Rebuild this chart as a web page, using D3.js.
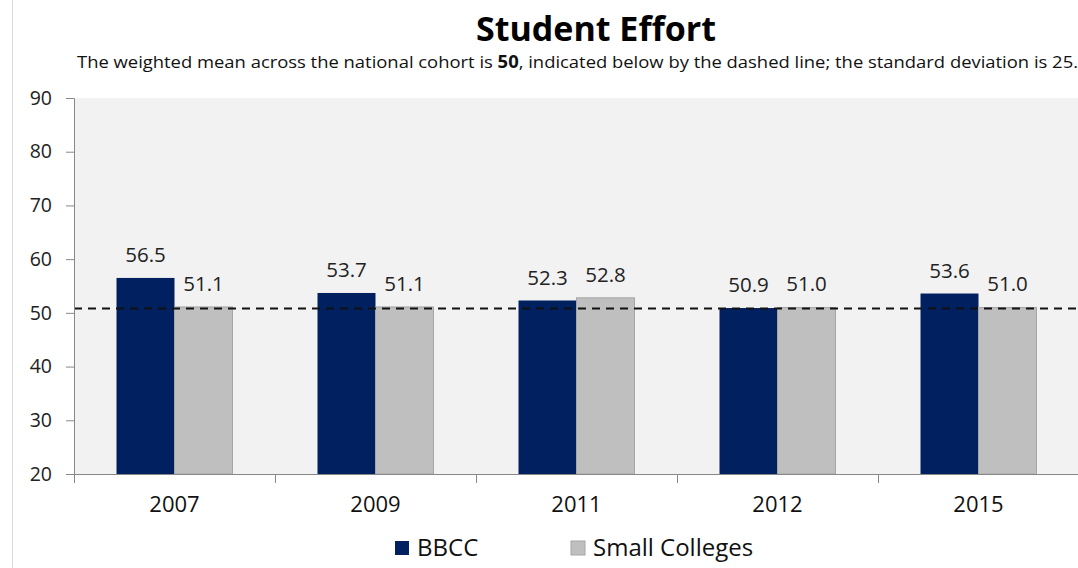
<!DOCTYPE html>
<html>
<head>
<meta charset="utf-8">
<script src="https://cdn.jsdelivr.net/npm/d3@7"></script>
<style>
  html, body { margin: 0; padding: 0; background: #fff; }
  svg { display: block; font-family: "Open Sans", sans-serif; }
</style>
</head>
<body>
<svg id="chart" width="1078" height="568"></svg>
<script>
// Survey years on the category axis
const years = ["2007", "2009", "2011", "2012", "2015"];
// Mean scores per year for each group
const bbcc = [56.5, 53.7, 52.3, 50.9, 53.6];
const smallColleges = [51.1, 51.1, 52.8, 51.0, 51.0];
const seriesNames = ["BBCC", "Small Colleges"];
const seriesColors = ["#002060", "#bfbfbf"];
// Y axis ticks
const yTicks = [20, 30, 40, 50, 60, 70, 80, 90];
// National cohort reference line
const cohortMean = 50.8;

const svg = d3.select("#chart");
const W = 1078, H = 568;
const plot = { left: 74, right: 1079, top: 98, bottom: 474 };

// outer frame edge on the left
svg.append("line")
  .attr("x1", 12.5).attr("x2", 12.5).attr("y1", 0).attr("y2", H)
  .attr("stroke", "#d9d9d9").attr("stroke-width", 1);

const x = d3.scaleBand().domain(years).range([plot.left, plot.right]);
const y = d3.scaleLinear().domain([20, 90]).range([plot.bottom, plot.top]);
const groupWidth = x.bandwidth() * 0.577;
const x1 = d3.scaleBand().domain(seriesNames)
  .range([(x.bandwidth() - groupWidth) / 2, (x.bandwidth() + groupWidth) / 2]);

// plot area background
svg.append("rect")
  .attr("x", plot.left).attr("y", plot.top)
  .attr("width", plot.right - plot.left).attr("height", plot.bottom - plot.top)
  .attr("fill", "#f2f2f2");

const rows = years.map((yr, i) => ({ year: yr, values: [bbcc[i], smallColleges[i]] }));

const groups = svg.append("g").selectAll("g").data(rows).join("g")
  .attr("transform", d => `translate(${x(d.year)},0)`);

groups.selectAll("rect").data(d => d.values.map((v, k) => ({ v, k }))).join("rect")
  .attr("x", d => x1(seriesNames[d.k]))
  .attr("y", d => y(d.v))
  .attr("width", x1.bandwidth())
  .attr("height", d => y(20) - y(d.v))
  .attr("fill", d => seriesColors[d.k])
  .attr("stroke", d => d.k === 0 ? "none" : "#a6a6a6")
  .attr("stroke-width", 1);

groups.selectAll("text").data(d => d.values.map((v, k) => ({ v, k }))).join("text")
  .attr("x", d => x1(seriesNames[d.k]) + x1.bandwidth() / 2)
  .attr("y", d => y(d.v) - 16)
  .attr("text-anchor", "middle")
  .attr("font-size", 20.5)
  .attr("fill", "#222")
  .text(d => d.v.toFixed(1));

// dashed reference line
svg.append("line")
  .attr("x1", plot.left).attr("x2", plot.right)
  .attr("y1", y(cohortMean)).attr("y2", y(cohortMean))
  .attr("stroke", "#111").attr("stroke-width", 2)
  .attr("stroke-dasharray", "8,6");

// y axis
const yAxis = svg.append("g")
  .attr("transform", `translate(${plot.left},0)`)
  .call(d3.axisLeft(y).tickValues(yTicks).tickSize(8).tickPadding(14).tickFormat(d3.format("d")));
yAxis.select(".domain").attr("stroke", "#888").attr("d", `M-8,${plot.top + 0.5}H0.5V${plot.bottom + 0.5}`);
yAxis.selectAll(".tick line").attr("stroke", "#888");
yAxis.selectAll(".tick text").attr("font-size", 19.5).attr("fill", "#222")
  .attr("font-family", "'Open Sans', sans-serif");

// x axis
const xAxis = svg.append("g")
  .attr("transform", `translate(0,${plot.bottom})`)
  .call(d3.axisBottom(x).tickSize(0).tickPadding(22));
xAxis.select(".domain").attr("stroke", "#888").attr("d", `M${plot.left},0.5H${plot.right}`);
xAxis.selectAll(".tick text").attr("font-size", 22).attr("fill", "#111")
  .attr("font-family", "'Open Sans', sans-serif");
// category separators
svg.append("g").selectAll("line").data(years.concat(["end"])).join("line")
  .attr("x1", (d, i) => plot.left + i * x.step() + 0.5)
  .attr("x2", (d, i) => plot.left + i * x.step() + 0.5)
  .attr("y1", plot.bottom).attr("y2", plot.bottom + 9)
  .attr("stroke", "#888");

// title and subtitle
svg.append("text")
  .attr("x", 596).attr("y", 41)
  .attr("text-anchor", "middle")
  .attr("font-size", 34).attr("font-weight", "bold").attr("fill", "#000")
  .text("Student Effort");

const sub = svg.append("text")
  .attr("x", 77).attr("y", 68)
  .attr("font-size", 17).attr("fill", "#111")
  .attr("textLength", 1001).attr("lengthAdjust", "spacingAndGlyphs");
sub.append("tspan").text("The weighted mean across the national cohort is ");
sub.append("tspan").attr("font-weight", "bold").text("50");
sub.append("tspan").text(", indicated below by the dashed line; the standard deviation is 25.");

// legend
const legendX = [395, 571];
const legend = svg.append("g").selectAll("g").data(seriesNames).join("g")
  .attr("transform", (d, i) => `translate(${legendX[i]},541)`);
legend.append("rect")
  .attr("width", 14).attr("height", 14)
  .attr("fill", (d, i) => seriesColors[i])
  .attr("stroke", (d, i) => i === 0 ? "none" : "#a6a6a6");
legend.append("text")
  .attr("x", 22).attr("y", 15)
  .attr("font-size", 24).attr("fill", "#111")
  .text(d => d);
</script>
</body>
</html>
